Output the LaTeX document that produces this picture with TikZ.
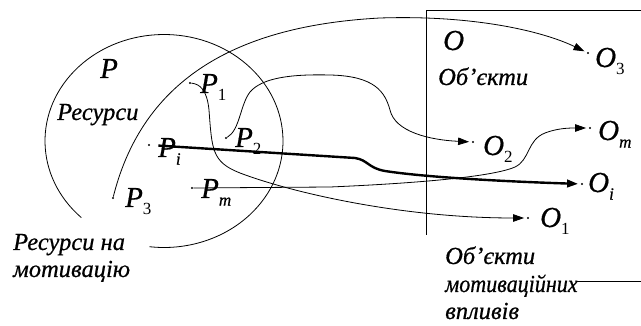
\documentclass[tikz,border=0pt]{standalone}
\usepackage{fontspec}
\setmainfont{Liberation Serif}[ItalicFeatures={FakeBold=0.6}]
\usetikzlibrary{arrows.meta}
\newcommand\sbx[1]{\raisebox{-0.26em}{\fontsize{17pt}{17pt}\selectfont #1}}
\begin{document}
\begin{tikzpicture}[x=1pt,y=-1pt,
  dot/.style={circle,fill=black,inner sep=0pt,minimum size=2.4pt},
  lbl/.style={anchor=base west,inner sep=0pt,font=\fontsize{29pt}{29pt}\selectfont\itshape},
  txt/.style={anchor=base west,inner sep=0pt,font=\fontsize{24.5pt}{27pt}\selectfont\itshape},
  conn/.style={line width=0.8pt},
  arr/.style={conn,-{Triangle[length=11pt,width=7.5pt]},shorten >=2.5pt},
  thickarr/.style={line width=2.4pt,-{Triangle[length=11pt,width=7.5pt]},shorten >=2.5pt},
  ]
\useasboundingbox (0,0) rectangle (641,326);
% set P (open ellipse)
\draw[conn] (164,141) ++(134:119 and 106.5) arc[start angle=134,end angle=457,x radius=119,y radius=106.5];
% frame of objects
\draw[conn] (641,10) -- (426,10) -- (426,235);
\draw[conn] (576,281) -- (641,281);
% dots
\node[dot] (p1) at (190,83) {};
\node[dot] (p2) at (226,138) {};
\node[dot] (pi) at (149,145) {};
\node[dot] (p3) at (113,198) {};
\node[dot] (pm) at (192,188) {};
\node[dot] (o3) at (588,53) {};
\node[dot] (o2) at (473,142) {};
\node[dot] (om) at (590,128) {};
\node[dot] (oi) at (582,184) {};
\node[dot] (o1) at (528,218) {};
% labels
\node[lbl] (lp1) at (200,93) {P\sbx{\upshape 1}};
\node[lbl] (lp2) at (235,147) {P\sbx{\upshape 2}};
\node[lbl] (lpi) at (158,157) {P\sbx{i}};
\node[lbl] (lp3) at (125,207) {P\sbx{\upshape 3}};
\node[lbl] (lpm) at (201,198) {P\sbx{m}};
\node[lbl] (lo3) at (595,67) {O\sbx{\upshape 3}};
\node[lbl] (lo2) at (483,155) {O\sbx{\upshape 2}};
\node[lbl] (lom) at (598,140) {O\sbx{m}};
\node[lbl] (loi) at (588,192) {O\sbx{i}};
\node[lbl] (lo1) at (540,227) {O\sbx{\upshape 1}};
\node[lbl] (lP) at (100,78) {P};
\node[lbl] (lO) at (443,50) {O};
\node[txt] (res) at (57,120) {Ресурси};
\node[txt] (rn1) at (13,250) {Ресурси на};
\node[txt] (rn2) at (13,277) {мотивацію};
\node[txt] (ob) at (438,85) {Об’єкти};
\node[txt] (om1) at (445,264) {Об’єкти};
\node[txt] (om2) at (445,292) {\scalebox{0.9}[1]{мотиваційних}};
\node[txt] (om3) at (445,319) {впливів};
% connectors
\draw[arr] (p3) .. controls (145,70) and (250,25) .. (380,18) .. controls (470,15) and (540,30) .. (o3);
\draw[arr] (p1) .. controls (200,84) and (207,90) .. (209,110) .. controls (212,150) and (212,162) .. (240,173) .. controls (290,192) and (400,218) .. (o1);
\draw[arr] (p2) .. controls (240,130) and (240,105) .. (250,92) .. controls (262,78) and (290,74) .. (330,75) .. controls (375,76) and (385,92) .. (390,110) .. controls (395,132) and (430,140) .. (o2);
\draw[thickarr,shorten <=8pt] (pi) -- (355,158) .. controls (368,160) and (368,168) .. (385,171) .. controls (430,178) and (520,182) .. (oi);
\draw[arr] (pm) -- (330,187) .. controls (400,184) and (490,178) .. (515,167) .. controls (530,160) and (527,140) .. (545,133) .. controls (558,128) and (570,128) .. (om);
\end{tikzpicture}
\end{document}
